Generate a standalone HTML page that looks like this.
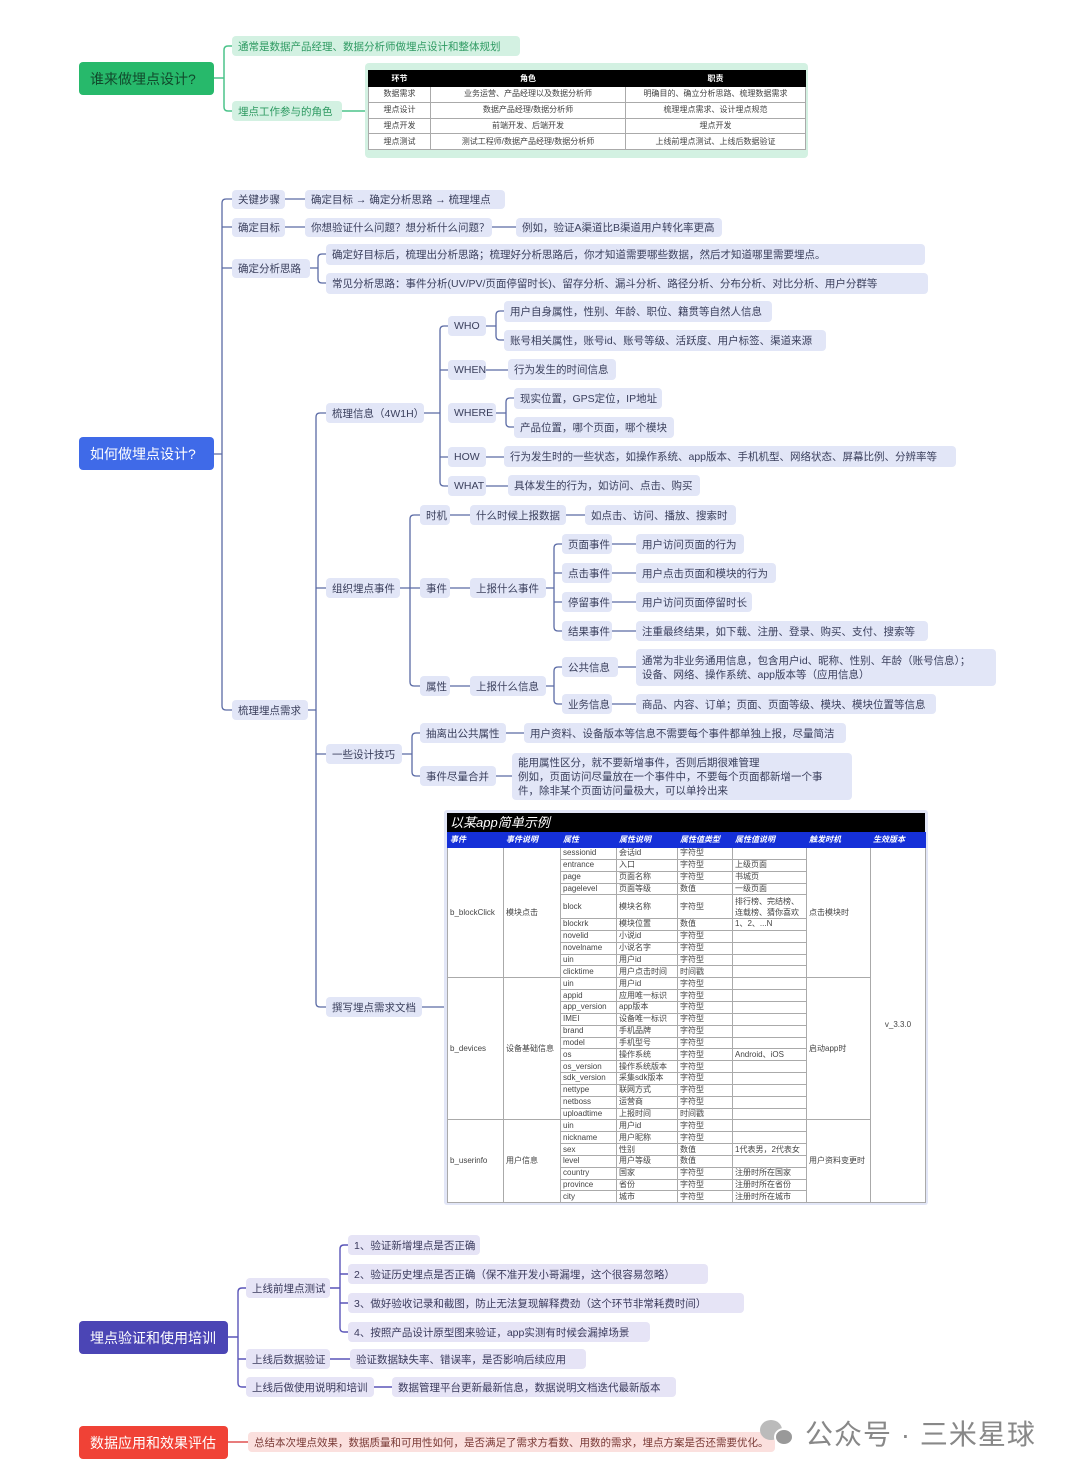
<!DOCTYPE html>
<html><head><meta charset="utf-8">
<style>
*{margin:0;padding:0;box-sizing:border-box}
body{width:1080px;height:1475px;background:#fff;position:relative;overflow:hidden;font-family:"Liberation Sans","Noto Sans CJK SC",sans-serif;}
.n{position:absolute;border-radius:4px;font-size:10.5px;color:#333;white-space:nowrap;display:flex;align-items:center;padding:0 6px;}
.b{background:#e2e6f7;color:#3a3f5c}
.g{background:#d3f1e2;color:#2e9a62}
.p{background:#e6e4f6;color:#3a3a5c}
.r{background:#fbe0de;color:#7a3a36}
.root{position:absolute;border-radius:4px;color:#fff;font-size:14px;display:flex;align-items:center;padding-left:11px;}
svg{position:absolute;left:0;top:0}
table{border-collapse:collapse;font-size:8px;color:#444;table-layout:fixed}
td{border:1px solid #aaa;padding:0 2px;overflow:hidden;white-space:nowrap;line-height:1}
.t tr{height:11.85px}
</style></head><body>
<svg width="1080" height="1475">
<g stroke="#4cc38a" stroke-width="1.5" fill="none">
<path d="M214 78H224M232 46H228Q224 46 224 50V107Q224 111 228 111H232M342 111H365"/>
</g>
<g stroke="#5a6aa5" stroke-width="1.3" fill="none">
<path d="M214 454H222M232 199H226Q222 199 222 203V706Q222 710 226 710H232M222 227H232M222 268H232"/>
<path d="M285 199H305M285 227H305M492 227H516"/>
<path d="M310 268H318M326 254H322Q318 254 318 258V279Q318 283 322 283H326"/>
<path d="M308 710H316M326 413H320Q316 413 316 417V1003Q316 1007 320 1007H326M316 588H326M316 754H326"/>
<path d="M424 413H440M448 326H444Q440 326 440 330V482Q440 486 444 486H448M440 370H448M440 457H448"/>
<path d="M486 326H496M504 311H500Q496 311 496 315V336Q496 340 500 340H504M486 370H508M496 413H506M514 398H510Q506 398 506 402V423Q506 427 510 427H514M486 457H504M486 486H508"/>
<path d="M400 588H410M420 515H414Q410 515 410 519V682Q410 686 414 686H420M410 588H420"/>
<path d="M450 515H470M566 515H585M450 588H470M546 588H554M562 544H558Q554 544 554 548V627Q554 631 558 631H562M554 573H562M554 602H562"/>
<path d="M612 544H636M612 573H636M612 602H636M612 631H636"/>
<path d="M450 686H470M546 686H554M562 667H558Q554 667 554 671V700Q554 704 558 704H562M618 667H636M612 704H636"/>
<path d="M402 754H412M420 733H416Q412 733 412 737V772Q412 776 416 776H420M506 733H524M496 776H512"/>
<path d="M422 1007H444"/>
</g>
<g stroke="#5a55b8" stroke-width="1.4" fill="none">
<path d="M228 1337H238M246 1288H242Q238 1288 238 1292V1383Q238 1387 242 1387H246M238 1359H246"/>
<path d="M330 1288H340M348 1245H344Q340 1245 340 1249V1328Q340 1332 344 1332H348M340 1274H348M340 1303H348"/>
<path d="M330 1359H350M374 1387H392"/>
</g>
<path d="M228 1442H248" stroke="#e05050" stroke-width="1.4"/>
</svg>

<div class="root" style="left:79px;top:62px;width:135px;height:33px;background:#27b96b;color:#114a2c">谁来做埋点设计?</div>
<div class="n g" style="left:232px;top:36px;width:288px;height:20px">通常是数据产品经理、数据分析师做埋点设计和整体规划</div>
<div class="n g" style="left:232px;top:101px;width:110px;height:20px">埋点工作参与的角色</div>
<div style="position:absolute;left:365px;top:63px;width:443px;height:95px;background:#d3f1e2;border-radius:4px"></div>
<table style="position:absolute;left:368px;top:70px;width:437px;height:80px;background:#fff;font-size:8px;text-align:center">
<colgroup><col style="width:62px"><col style="width:195px"><col style="width:180px"></colgroup>
<tr style="background:#000;color:#fff;height:16px;font-weight:bold"><td style="border-color:#000">环节</td><td style="border-color:#000">角色</td><td style="border-color:#000">职责</td></tr>
<tr><td>数据需求</td><td>业务运营、产品经理以及数据分析师</td><td>明确目的、确立分析思路、梳理数据需求</td></tr>
<tr><td>埋点设计</td><td>数据产品经理/数据分析师</td><td>梳理埋点需求、设计埋点规范</td></tr>
<tr><td>埋点开发</td><td>前端开发、后端开发</td><td>埋点开发</td></tr>
<tr><td>埋点测试</td><td>测试工程师/数据产品经理/数据分析师</td><td>上线前埋点测试、上线后数据验证</td></tr>
</table>

<div class="root" style="left:79px;top:437px;width:135px;height:33px;background:#3f6ae8">如何做埋点设计?</div>
<div class="n b" style="left:232px;top:190px;width:53px;height:19px">关键步骤</div>
<div class="n b" style="left:305px;top:190px;width:200px;height:19px">确定目标 → 确定分析思路 → 梳理埋点</div>
<div class="n b" style="left:232px;top:218px;width:53px;height:19px">确定目标</div>
<div class="n b" style="left:305px;top:218px;width:187px;height:19px">你想验证什么问题？想分析什么问题？</div>
<div class="n b" style="left:516px;top:218px;width:206px;height:19px">例如，验证A渠道比B渠道用户转化率更高</div>
<div class="n b" style="left:232px;top:259px;width:78px;height:19px">确定分析思路</div>
<div class="n b" style="left:326px;top:244px;width:599px;height:21px">确定好目标后，梳理出分析思路；梳理好分析思路后，你才知道需要哪些数据，然后才知道哪里需要埋点。</div>
<div class="n b" style="left:326px;top:273px;width:602px;height:21px">常见分析思路：事件分析(UV/PV/页面停留时长)、留存分析、漏斗分析、路径分析、分布分析、对比分析、用户分群等</div>
<div class="n b" style="left:232px;top:700px;width:76px;height:20px">梳理埋点需求</div>
<div class="n b" style="left:326px;top:403px;width:98px;height:20px">梳理信息（4W1H）</div>
<div class="n b" style="left:448px;top:316px;width:38px;height:20px">WHO</div>
<div class="n b" style="left:504px;top:301px;width:268px;height:21px">用户自身属性，性别、年龄、职位、籍贯等自然人信息</div>
<div class="n b" style="left:504px;top:330px;width:322px;height:21px">账号相关属性，账号id、账号等级、活跃度、用户标签、渠道来源</div>
<div class="n b" style="left:448px;top:360px;width:38px;height:20px">WHEN</div>
<div class="n b" style="left:508px;top:359px;width:108px;height:21px">行为发生的时间信息</div>
<div class="n b" style="left:448px;top:403px;width:48px;height:20px">WHERE</div>
<div class="n b" style="left:514px;top:388px;width:148px;height:21px">现实位置，GPS定位，IP地址</div>
<div class="n b" style="left:514px;top:417px;width:160px;height:21px">产品位置，哪个页面，哪个模块</div>
<div class="n b" style="left:448px;top:447px;width:38px;height:20px">HOW</div>
<div class="n b" style="left:504px;top:446px;width:452px;height:21px">行为发生时的一些状态，如操作系统、app版本、手机机型、网络状态、屏幕比例、分辨率等</div>
<div class="n b" style="left:448px;top:476px;width:38px;height:20px">WHAT</div>
<div class="n b" style="left:508px;top:475px;width:192px;height:21px">具体发生的行为，如访问、点击、购买</div>

<div class="n b" style="left:326px;top:578px;width:74px;height:20px">组织埋点事件</div>
<div class="n b" style="left:420px;top:505px;width:30px;height:20px">时机</div>
<div class="n b" style="left:470px;top:505px;width:96px;height:20px">什么时候上报数据</div>
<div class="n b" style="left:585px;top:505px;width:151px;height:20px">如点击、访问、播放、搜索时</div>
<div class="n b" style="left:420px;top:578px;width:30px;height:20px">事件</div>
<div class="n b" style="left:470px;top:578px;width:76px;height:20px">上报什么事件</div>
<div class="n b" style="left:562px;top:534px;width:50px;height:20px">页面事件</div>
<div class="n b" style="left:636px;top:534px;width:108px;height:20px">用户访问页面的行为</div>
<div class="n b" style="left:562px;top:563px;width:50px;height:20px">点击事件</div>
<div class="n b" style="left:636px;top:563px;width:140px;height:20px">用户点击页面和模块的行为</div>
<div class="n b" style="left:562px;top:592px;width:50px;height:20px">停留事件</div>
<div class="n b" style="left:636px;top:592px;width:116px;height:20px">用户访问页面停留时长</div>
<div class="n b" style="left:562px;top:621px;width:50px;height:20px">结果事件</div>
<div class="n b" style="left:636px;top:621px;width:292px;height:20px">注重最终结果，如下载、注册、登录、购买、支付、搜索等</div>
<div class="n b" style="left:420px;top:676px;width:30px;height:20px">属性</div>
<div class="n b" style="left:470px;top:676px;width:76px;height:20px">上报什么信息</div>
<div class="n b" style="left:562px;top:657px;width:56px;height:20px">公共信息</div>
<div class="n b" style="left:636px;top:649px;width:360px;height:37px;white-space:normal;line-height:14px">通常为非业务通用信息，包含用户id、昵称、性别、年龄（账号信息）；<br>设备、网络、操作系统、app版本等（应用信息）</div>
<div class="n b" style="left:562px;top:694px;width:50px;height:20px">业务信息</div>
<div class="n b" style="left:636px;top:694px;width:300px;height:20px">商品、内容、订单；页面、页面等级、模块、模块位置等信息</div>

<div class="n b" style="left:326px;top:744px;width:76px;height:20px">一些设计技巧</div>
<div class="n b" style="left:420px;top:723px;width:86px;height:20px">抽离出公共属性</div>
<div class="n b" style="left:524px;top:723px;width:322px;height:20px">用户资料、设备版本等信息不需要每个事件都单独上报，尽量简洁</div>
<div class="n b" style="left:420px;top:766px;width:76px;height:20px">事件尽量合并</div>
<div class="n b" style="left:512px;top:753px;width:340px;height:47px;white-space:normal;line-height:14px">能用属性区分，就不要新增事件，否则后期很难管理<br>例如，页面访问尽量放在一个事件中，不要每个页面都新增一个事<br>件，除非某个页面访问量极大，可以单拎出来</div>

<div class="n b" style="left:326px;top:997px;width:96px;height:20px">撰写埋点需求文档</div>
<div style="position:absolute;left:444px;top:810px;width:484px;height:395px;background:#e2e6f7;border-radius:3px"></div>
<div style="position:absolute;left:447px;top:813px;width:478px;height:19px;background:#000;color:#fff;font-size:13px;font-style:italic;padding-left:3px;line-height:19px">以某app简单示例</div>
<table class="t" style="position:absolute;left:447px;top:832px;width:478px;background:#fff">
<colgroup><col style="width:56px"><col style="width:57px"><col style="width:56px"><col style="width:61px"><col style="width:55px"><col style="width:74px"><col style="width:64px"><col style="width:55px"></colgroup>
<tr style="background:#1530d8;color:#fff;font-weight:bold;font-style:italic;height:15px"><td style="border-color:#1530d8">事件</td><td style="border-color:#1530d8">事件说明</td><td style="border-color:#1530d8">属性</td><td style="border-color:#1530d8">属性说明</td><td style="border-color:#1530d8">属性值类型</td><td style="border-color:#1530d8">属性值说明</td><td style="border-color:#1530d8">触发时机</td><td style="border-color:#1530d8">生效版本</td></tr>
<tr><td rowspan="10">b_blockClick</td><td rowspan="10">模块点击</td><td>sessionid</td><td>会话id</td><td>字符型</td><td></td><td rowspan="10">点击模块时</td><td rowspan="30" style="text-align:center">v_3.3.0</td></tr>
<tr><td>entrance</td><td>入口</td><td>字符型</td><td>上级页面</td></tr>
<tr><td>page</td><td>页面名称</td><td>字符型</td><td>书城页</td></tr>
<tr><td>pagelevel</td><td>页面等级</td><td>数值</td><td>一级页面</td></tr>
<tr style="height:23.7px"><td>block</td><td>模块名称</td><td>字符型</td><td style="white-space:normal;line-height:11px">排行榜、完结榜、连载榜、猜你喜欢</td></tr>
<tr><td>blockrk</td><td>模块位置</td><td>数值</td><td>1、2、...N</td></tr>
<tr><td>novelid</td><td>小说id</td><td>字符型</td><td></td></tr>
<tr><td>novelname</td><td>小说名字</td><td>字符型</td><td></td></tr>
<tr><td>uin</td><td>用户id</td><td>字符型</td><td></td></tr>
<tr><td>clicktime</td><td>用户点击时间</td><td>时间戳</td><td></td></tr>
<tr><td rowspan="12">b_devices</td><td rowspan="12">设备基础信息</td><td>uin</td><td>用户id</td><td>字符型</td><td></td><td rowspan="12">启动app时</td></tr>
<tr><td>appid</td><td>应用唯一标识</td><td>字符型</td><td></td></tr>
<tr><td>app_version</td><td>app版本</td><td>字符型</td><td></td></tr>
<tr><td>IMEI</td><td>设备唯一标识</td><td>字符型</td><td></td></tr>
<tr><td>brand</td><td>手机品牌</td><td>字符型</td><td></td></tr>
<tr><td>model</td><td>手机型号</td><td>字符型</td><td></td></tr>
<tr><td>os</td><td>操作系统</td><td>字符型</td><td>Android、iOS</td></tr>
<tr><td>os_version</td><td>操作系统版本</td><td>字符型</td><td></td></tr>
<tr><td>sdk_version</td><td>采集sdk版本</td><td>字符型</td><td></td></tr>
<tr><td>nettype</td><td>联网方式</td><td>字符型</td><td></td></tr>
<tr><td>netboss</td><td>运营商</td><td>字符型</td><td></td></tr>
<tr><td>uploadtime</td><td>上报时间</td><td>时间戳</td><td></td></tr>
<tr><td rowspan="8">b_userinfo</td><td rowspan="8">用户信息</td><td>uin</td><td>用户id</td><td>字符型</td><td></td><td rowspan="8">用户资料变更时</td></tr>
<tr><td>nickname</td><td>用户昵称</td><td>字符型</td><td></td></tr>
<tr><td>sex</td><td>性别</td><td>数值</td><td>1代表男，2代表女</td></tr>
<tr><td>level</td><td>用户等级</td><td>数值</td><td></td></tr>
<tr><td>country</td><td>国家</td><td>字符型</td><td>注册时所在国家</td></tr>
<tr><td>province</td><td>省份</td><td>字符型</td><td>注册时所在省份</td></tr>
<tr><td>city</td><td>城市</td><td>字符型</td><td>注册时所在城市</td></tr>
</table>

<div class="root" style="left:79px;top:1321px;width:149px;height:33px;background:#4b45b5">埋点验证和使用培训</div>
<div class="n p" style="left:246px;top:1278px;width:84px;height:20px">上线前埋点测试</div>
<div class="n p" style="left:348px;top:1235px;width:132px;height:20px">1、验证新增埋点是否正确</div>
<div class="n p" style="left:348px;top:1264px;width:360px;height:20px">2、验证历史埋点是否正确（保不准开发小哥漏埋，这个很容易忽略）</div>
<div class="n p" style="left:348px;top:1293px;width:396px;height:20px">3、做好验收记录和截图，防止无法复现解释费劲（这个环节非常耗费时间）</div>
<div class="n p" style="left:348px;top:1322px;width:302px;height:20px">4、按照产品设计原型图来验证，app实测有时候会漏掉场景</div>
<div class="n p" style="left:246px;top:1349px;width:84px;height:20px">上线后数据验证</div>
<div class="n p" style="left:350px;top:1349px;width:236px;height:20px">验证数据缺失率、错误率，是否影响后续应用</div>
<div class="n p" style="left:246px;top:1377px;width:128px;height:20px">上线后做使用说明和培训</div>
<div class="n p" style="left:392px;top:1377px;width:284px;height:20px">数据管理平台更新最新信息，数据说明文档迭代最新版本</div>

<div class="root" style="left:79px;top:1426px;width:149px;height:33px;background:#f04236">数据应用和效果评估</div>
<div class="n r" style="left:248px;top:1432px;width:527px;height:20px">总结本次埋点效果，数据质量和可用性如何，是否满足了需求方看数、用数的需求，埋点方案是否还需要优化。</div>

<div style="position:absolute;left:760px;top:1420px;width:22px;height:20px;border-radius:50%;background:#bbb"></div>
<div style="position:absolute;left:774px;top:1428px;width:20px;height:18px;border-radius:50%;background:#999;border:2px solid #fff"></div>
<div style="position:absolute;left:805px;top:1413px;font-size:28px;color:#888;white-space:nowrap;letter-spacing:1px">公众号 · 三米星球</div>
</body></html>
